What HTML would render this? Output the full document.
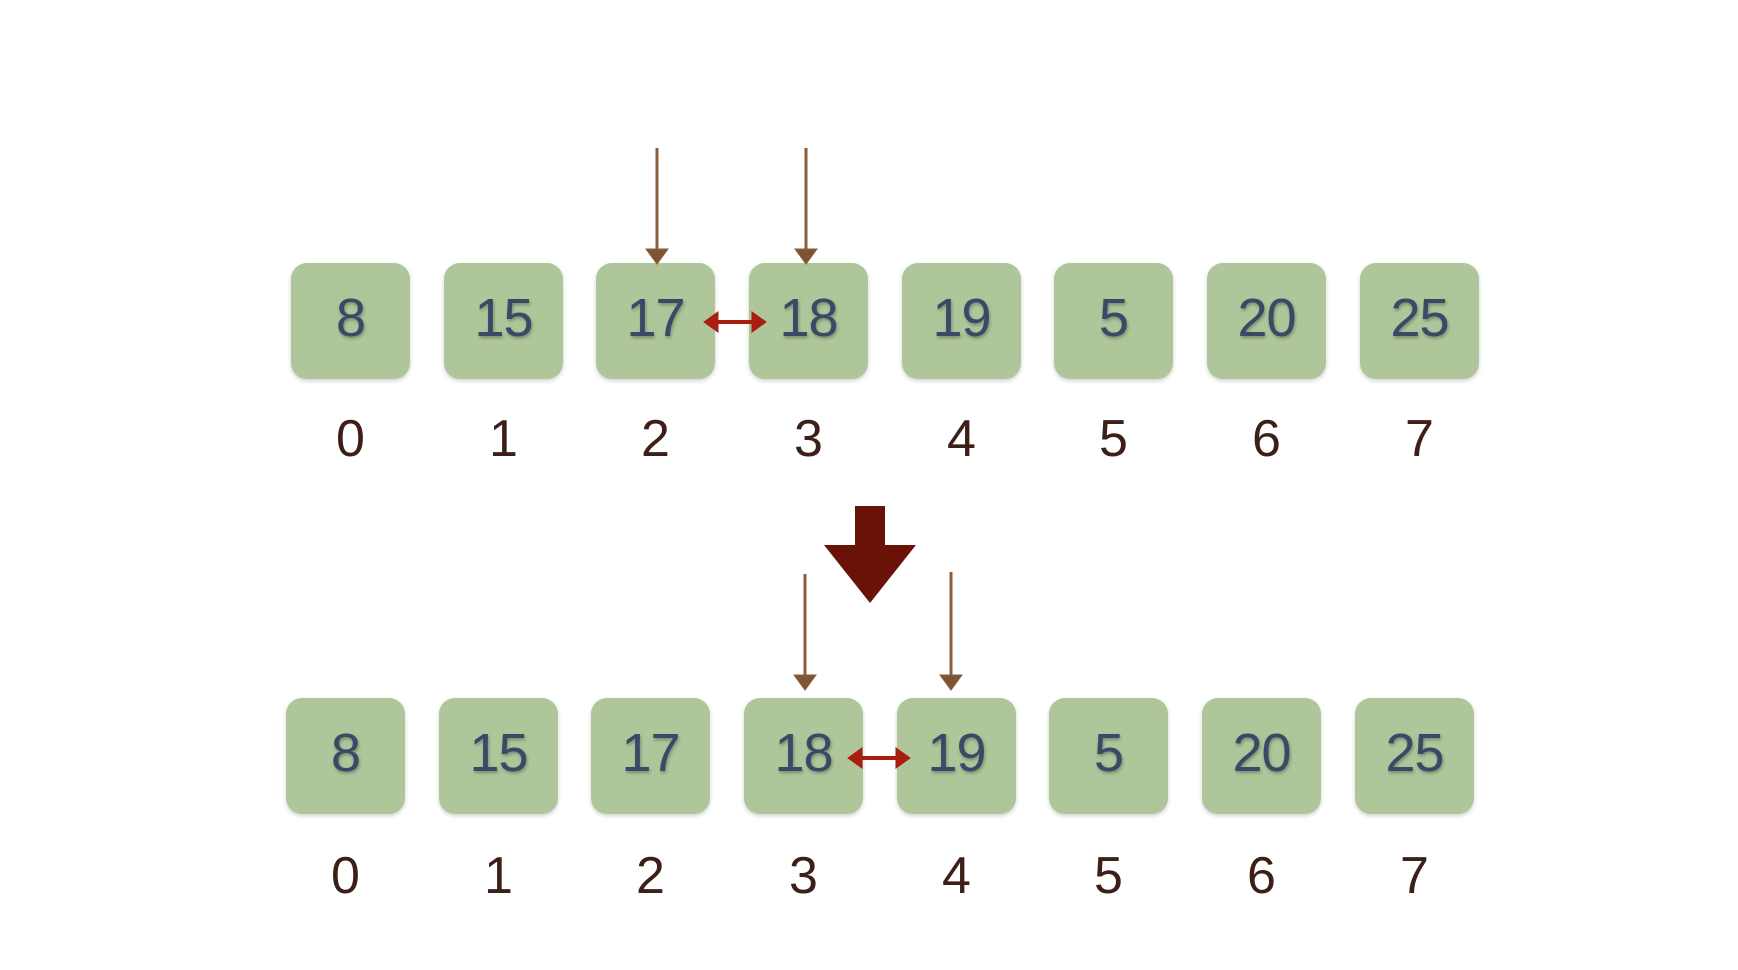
<!DOCTYPE html>
<html><head><style>
body{margin:0;width:1738px;height:970px;background:#fff;position:relative;overflow:hidden;font-family:"Liberation Sans",sans-serif}
.b{position:absolute;width:119px;height:116px;background:#afc69b;border-radius:16px;box-shadow:0 2px 4px rgba(0,0,0,.18);color:#3a4a66;font-size:54px;line-height:110px;text-align:center;text-shadow:1px 2px 3px rgba(0,0,0,.3);letter-spacing:-1px}
.l{position:absolute;width:119px;text-align:center;color:#3c2018;font-size:52px;line-height:52px}
</style></head><body>
<div class="b" style="left:291px;top:263px">8</div>
<div class="b" style="left:444px;top:263px">15</div>
<div class="b" style="left:596px;top:263px">17</div>
<div class="b" style="left:749px;top:263px">18</div>
<div class="b" style="left:902px;top:263px">19</div>
<div class="b" style="left:1054px;top:263px">5</div>
<div class="b" style="left:1207px;top:263px">20</div>
<div class="b" style="left:1360px;top:263px">25</div>
<div class="l" style="left:291px;top:413px">0</div>
<div class="l" style="left:444px;top:413px">1</div>
<div class="l" style="left:596px;top:413px">2</div>
<div class="l" style="left:749px;top:413px">3</div>
<div class="l" style="left:902px;top:413px">4</div>
<div class="l" style="left:1054px;top:413px">5</div>
<div class="l" style="left:1207px;top:413px">6</div>
<div class="l" style="left:1360px;top:413px">7</div>

<div class="b" style="left:286px;top:698px">8</div>
<div class="b" style="left:439px;top:698px">15</div>
<div class="b" style="left:591px;top:698px">17</div>
<div class="b" style="left:744px;top:698px">18</div>
<div class="b" style="left:897px;top:698px">19</div>
<div class="b" style="left:1049px;top:698px">5</div>
<div class="b" style="left:1202px;top:698px">20</div>
<div class="b" style="left:1355px;top:698px">25</div>
<div class="l" style="left:286px;top:850px">0</div>
<div class="l" style="left:439px;top:850px">1</div>
<div class="l" style="left:591px;top:850px">2</div>
<div class="l" style="left:744px;top:850px">3</div>
<div class="l" style="left:897px;top:850px">4</div>
<div class="l" style="left:1049px;top:850px">5</div>
<div class="l" style="left:1202px;top:850px">6</div>
<div class="l" style="left:1355px;top:850px">7</div>

<svg width="1738" height="970" style="position:absolute;left:0;top:0">
<g stroke="#8b5e3c" stroke-width="3" fill="#7d5535">
<line x1="657" y1="148" x2="657" y2="250"/><polygon points="646,249 668,249 657,264" stroke-width="1"/>
<line x1="806" y1="148" x2="806" y2="250"/><polygon points="795,249 817,249 806,264" stroke-width="1"/>
<line x1="805" y1="574" x2="805" y2="676"/><polygon points="794,675 816,675 805,690" stroke-width="1"/>
<line x1="951" y1="572" x2="951" y2="676"/><polygon points="940,675 962,675 951,690" stroke-width="1"/>
</g>
<g fill="#a81e10" stroke="#a81e10" stroke-width="4">
<line x1="715" y1="322" x2="754" y2="322"/>
<polygon points="704,322 718,312 718,332" stroke-width="1"/><polygon points="766,322 752,312 752,332" stroke-width="1"/>
<line x1="859" y1="758" x2="898" y2="758"/>
<polygon points="848,758 862,748 862,768" stroke-width="1"/><polygon points="910,758 896,748 896,768" stroke-width="1"/>
</g>
<polygon points="855,506 885,506 885,545 916,545 870,603 824,545 855,545" fill="#6b1208"/>
</svg>
</body></html>
